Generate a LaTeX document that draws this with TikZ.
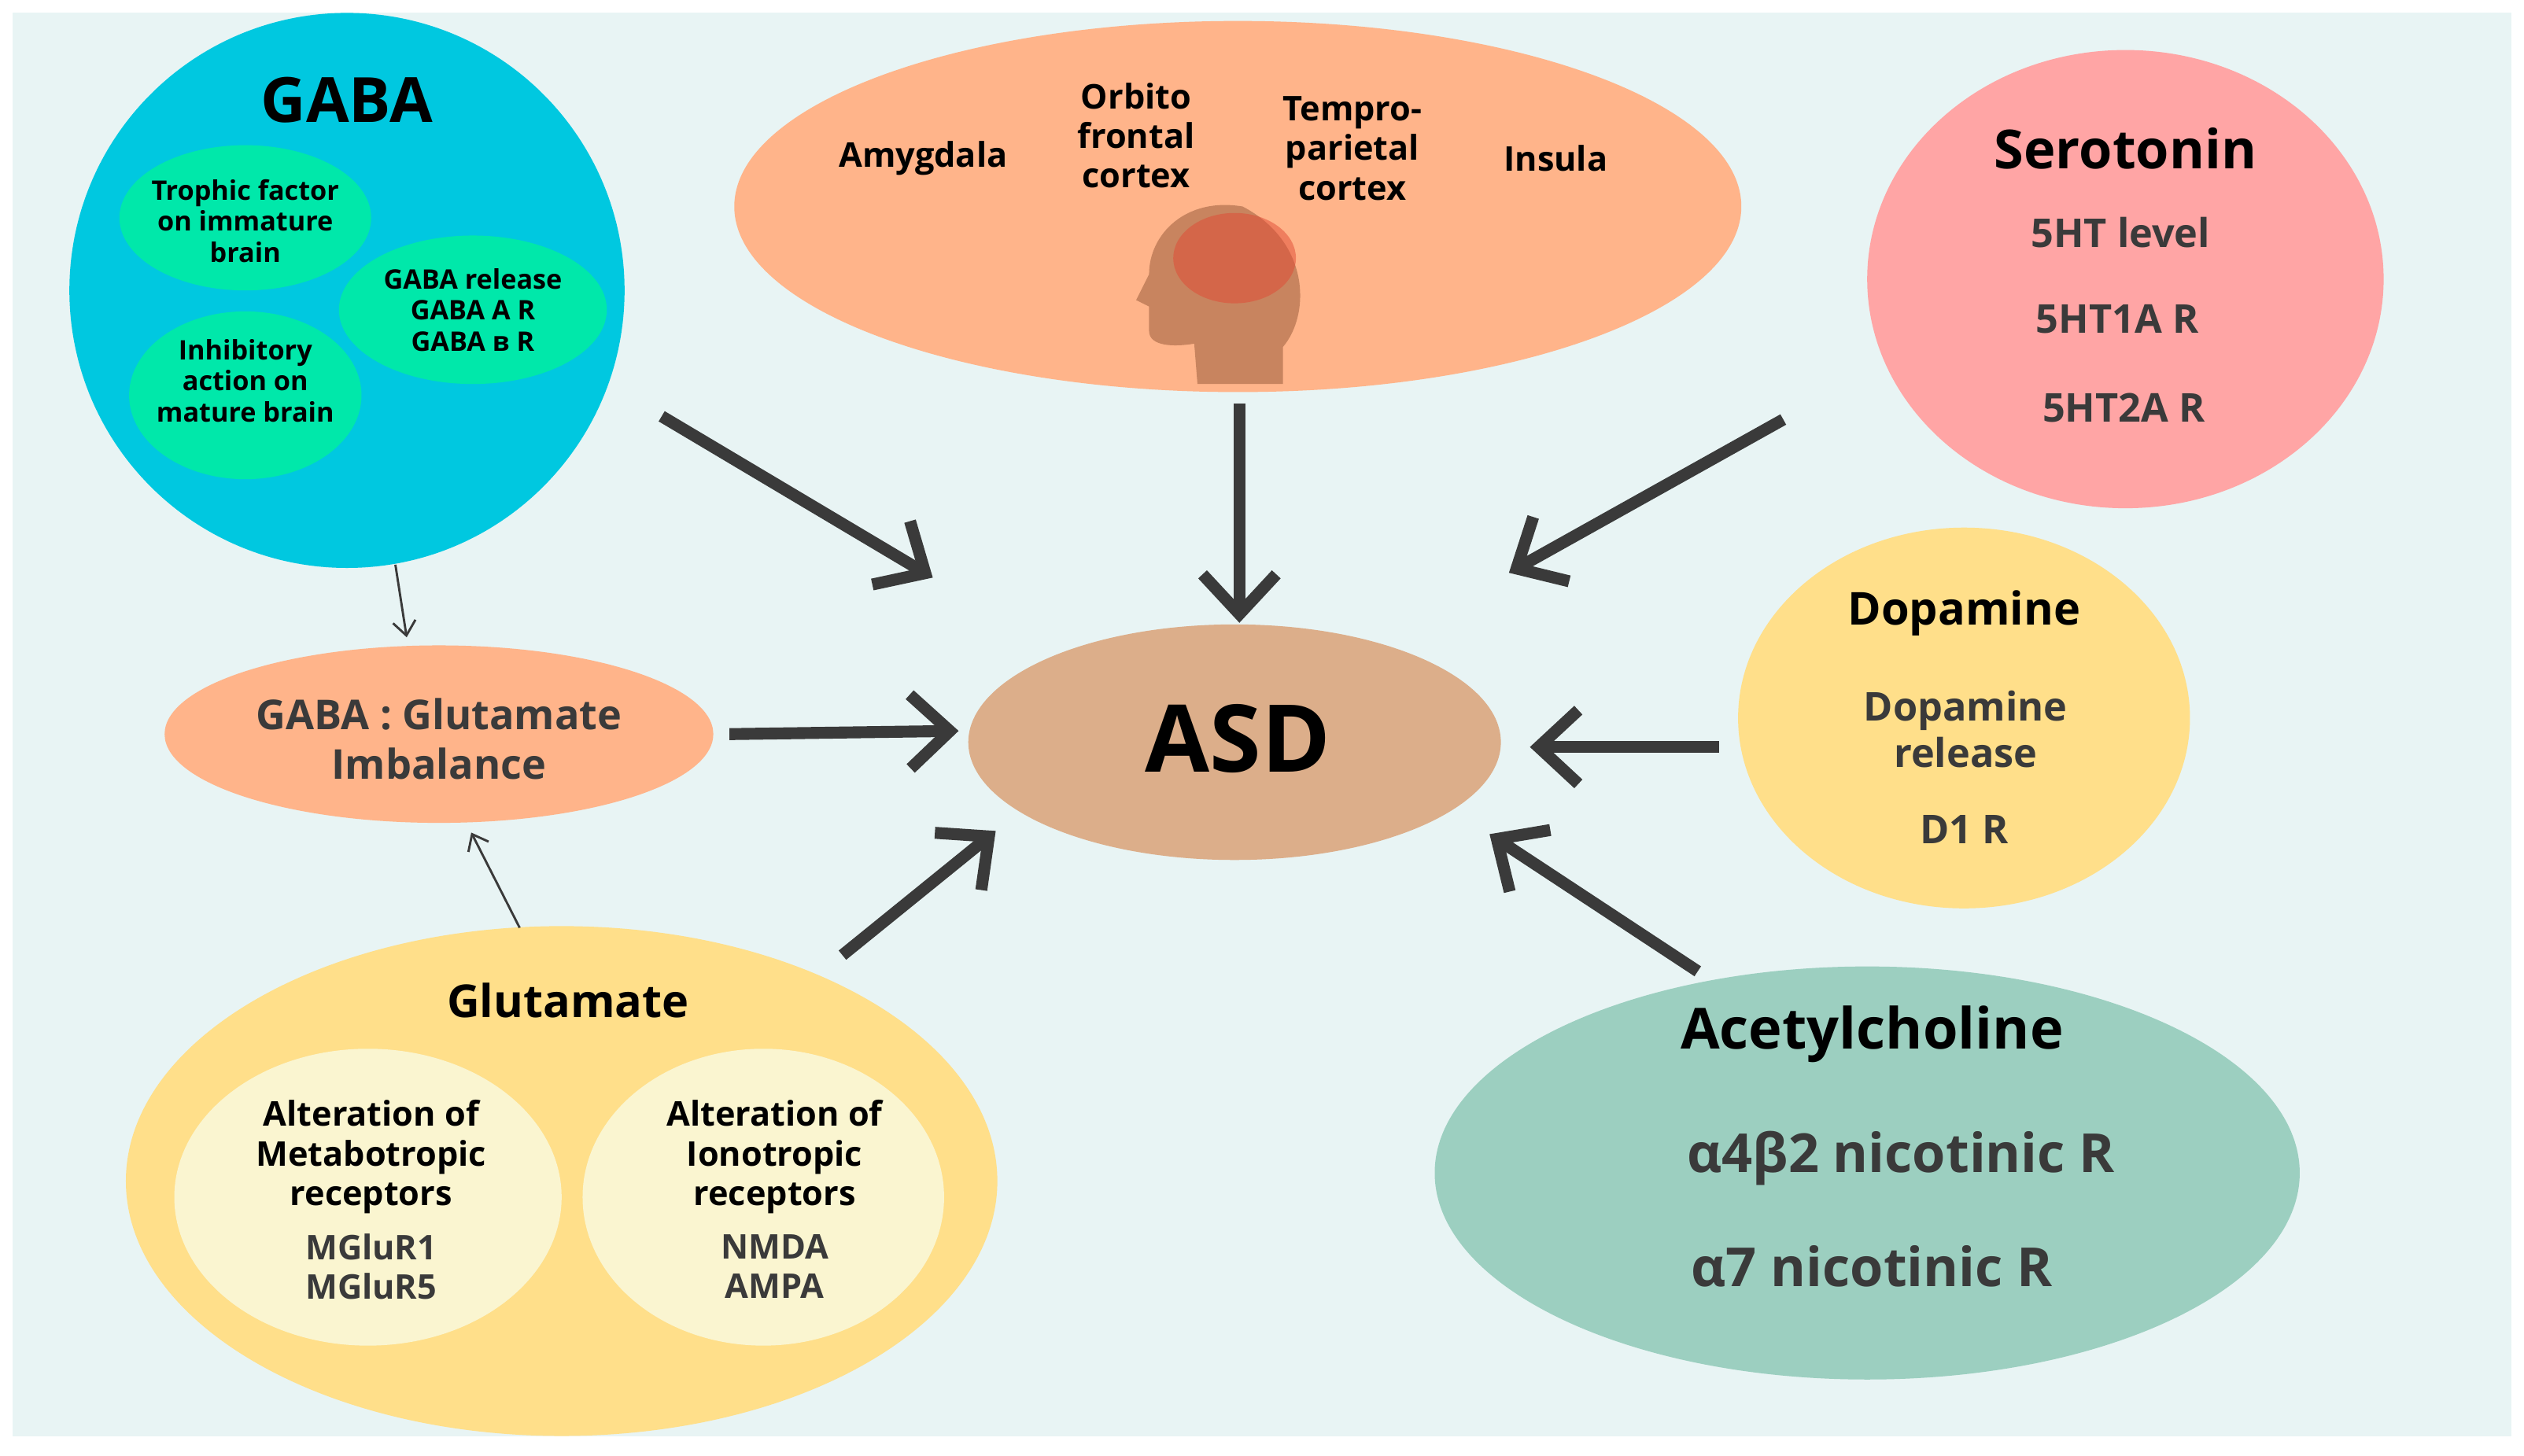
\documentclass[tikz,border=0pt]{standalone}
\usepackage{fontspec}
\setmainfont{Open Sans}
\usetikzlibrary{arrows.meta}
\definecolor{bg}{HTML}{E8F4F4}
\definecolor{cyanc}{HTML}{00C8E0}
\definecolor{greenc}{HTML}{00E8AA}
\definecolor{peach}{HTML}{FFB48A}
\definecolor{pinkc}{HTML}{FFA5A5}
\definecolor{yellowc}{HTML}{FFDF8A}
\definecolor{tealc}{HTML}{9CCFC0}
\definecolor{tanc}{HTML}{DCAE8A}
\definecolor{creamc}{HTML}{FAF5D0}
\definecolor{dk}{HTML}{3A3A3A}
\definecolor{headc}{HTML}{C8845F}
\begin{document}
\begin{tikzpicture}[x=0.02cm,y=-0.02cm,
  el/.style={ellipse,inner sep=0pt},
  txt/.style={align=center,font=\bfseries,text=dk},
  big/.style={line width=4.2pt,draw=dk,-{Straight Barb[length=14pt,width=26pt,line width=4.2pt]}},
  thin/.style={line width=0.8pt,draw=dk,-{Straight Barb[length=5pt,width=8pt]}}]
\useasboundingbox (0,0) rectangle (1564,902);
\fill[white] (0,0) rectangle (1564,902);
\fill[bg] (8,8) rectangle (1556,890);
% shapes
\fill[cyanc] (215,180) circle [radius=172];
\fill[greenc] (152,135) ellipse [x radius=78,y radius=45];
\fill[greenc] (293,192) ellipse [x radius=83,y radius=46];
\fill[greenc] (152,245) ellipse [x radius=72,y radius=52];
\fill[peach] (767,128) ellipse [x radius=312,y radius=115];
\fill[pinkc] (1317,173) ellipse [x radius=160,y radius=142];
\fill[yellowc] (1217,445) ellipse [x radius=140,y radius=118];
\fill[tealc] (1157,727) ellipse [x radius=268,y radius=128];
\fill[tanc] (765,460) ellipse [x radius=165,y radius=73];
\fill[peach] (272,455) ellipse [x radius=170,y radius=55];
\fill[yellowc] (348,732) ellipse [x radius=270,y radius=158];
\fill[creamc] (228,742) ellipse [x radius=120,y radius=92];
\fill[creamc] (473,742) ellipse [x radius=112,y radius=92];
% head
\fill[headc] (795,238) -- (795,215) .. controls (812,195) and (812,150) .. (770,128)
  .. controls (735,122) and (712,145) .. (712,170) -- (704,186) -- (712,190)
  -- (712,205) .. controls (712,215) and (728,215) .. (740,213) -- (742,238) -- cycle;
\fill[red!45!headc,opacity=0.5] (765,160) ellipse [x radius=38,y radius=28];
% texts
\node[font=\bfseries\fontsize{22}{24}\selectfont] (gaba) at (215,62) {GABA};
\node[txt,text=black,font=\bfseries\fontsize{9.5}{11}\selectfont] (t1) at (152,137) {Trophic factor\\on immature\\brain};
\node[txt,text=black,font=\bfseries\fontsize{9.5}{11}\selectfont] (t2) at (293,192) {GABA release\\GABA A R\\GABA в R};
\node[txt,text=black,font=\bfseries\fontsize{9.5}{11}\selectfont] (t3) at (152,236) {Inhibitory\\action on\\mature brain};
\node[txt,text=black,font=\bfseries\fontsize{12}{14}\selectfont] (amy) at (572,98) {Amygdala};
\node[txt,text=black,font=\bfseries\fontsize{12}{14}\selectfont] (orb) at (704,84) {Orbito\\frontal\\cortex};
\node[txt,text=black,font=\bfseries\fontsize{12}{14}\selectfont] (tem) at (838,92) {Tempro-\\parietal\\cortex};
\node[txt,text=black,font=\bfseries\fontsize{12}{14}\selectfont] (ins) at (964,98) {Insula};
\node[font=\bfseries\fontsize{19}{22}\selectfont] (ser) at (1317,92) {Serotonin};
\node[txt,font=\bfseries\fontsize{14}{16}\selectfont] (s1) at (1314,144) {5HT level};
\node[txt,font=\bfseries\fontsize{14}{16}\selectfont] (s2) at (1312,198) {5HT1A R};
\node[txt,font=\bfseries\fontsize{14}{16}\selectfont] (s3) at (1316,253) {5HT2A R};
\node[font=\bfseries\fontsize{16}{18}\selectfont] (dop) at (1217,380) {Dopamine};
\node[txt,font=\bfseries\fontsize{14}{16.5}\selectfont] (d1) at (1218,452) {Dopamine\\release};
\node[txt,font=\bfseries\fontsize{14}{16}\selectfont] (d2) at (1217,514) {D1 R};
\node[font=\bfseries\fontsize{20}{22}\selectfont] (ach) at (1160,641) {Acetylcholine};
\node[txt,font=\bfseries\fontsize{19}{22}\selectfont] (a1) at (1178,718) {α4β2 nicotinic R};
\node[txt,font=\bfseries\fontsize{19}{22}\selectfont] (a2) at (1160,785) {α7 nicotinic R};
\node[font=\bfseries\fontsize{33}{36}\selectfont] (asd) at (767,458) {ASD};
\node[txt,font=\bfseries\fontsize{14.5}{17.5}\selectfont] (imb) at (272,458) {GABA : Glutamate\\Imbalance};
\node[font=\bfseries\fontsize{16}{18}\selectfont] (glu) at (352,620) {Glutamate};
\node[txt,text=black,font=\bfseries\fontsize{12}{14}\selectfont] (g1) at (230,717) {Alteration of\\Metabotropic\\receptors};
\node[txt,font=\bfseries\fontsize{12}{14}\selectfont] (g1b) at (230,785) {MGluR1\\MGluR5};
\node[txt,text=black,font=\bfseries\fontsize{12}{14}\selectfont] (g2) at (480,717) {Alteration of\\Ionotropic\\receptors};
\node[txt,font=\bfseries\fontsize{12}{14}\selectfont] (g2b) at (480,785) {NMDA\\AMPA};
% arrow endpoints
\coordinate (a1s) at (410,258); \coordinate (a1e) at (578,358);
\coordinate (a2s) at (768,250); \coordinate (a2e) at (768,386);
\coordinate (a3s) at (1105,260); \coordinate (a3e) at (935,355);
\coordinate (a4s) at (452,455); \coordinate (a4e) at (594,453);
\coordinate (a5s) at (1065,463); \coordinate (a5e) at (948,463);
\coordinate (a6s) at (522,592); \coordinate (a6e) at (617,515);
\coordinate (a7s) at (1052,602); \coordinate (a7e) at (923,517);
\coordinate (b1s) at (245,350); \coordinate (b1e) at (252,395);
\coordinate (b2s) at (322,575); \coordinate (b2e) at (292,516);
\draw[big] (a1s) -- (a1e);
\draw[big] (a2s) -- (a2e);
\draw[big] (a3s) -- (a3e);
\draw[big] (a4s) -- (a4e);
\draw[big] (a5s) -- (a5e);
\draw[big] (a6s) -- (a6e);
\draw[big] (a7s) -- (a7e);
\draw[thin] (b1s) -- (b1e);
\draw[thin] (b2s) -- (b2e);
\end{tikzpicture}
\end{document}
